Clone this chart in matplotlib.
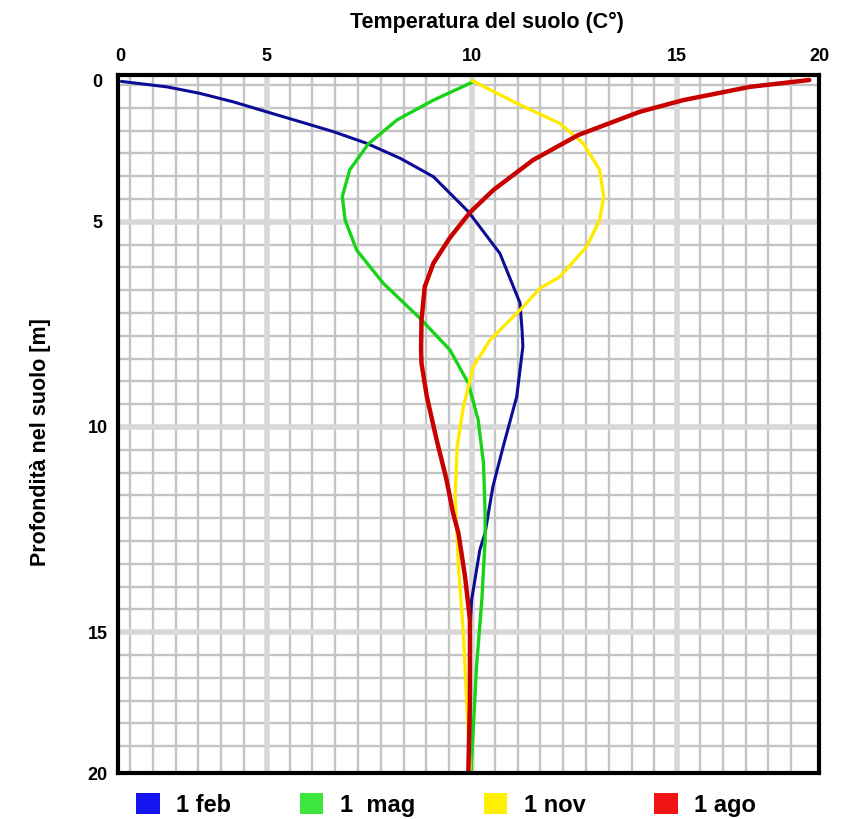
import numpy as np
import matplotlib
matplotlib.use("Agg")
import matplotlib.pyplot as plt
from matplotlib.patches import Patch

plt.rcParams['font.family'] = ['Liberation Sans', 'DejaVu Sans']

# ---------------- data (temperature in C, depth in m) ----------------
feb_T = [0.05, 1.59, 2.72, 3.86, 4.99, 5.81, 6.62, 7.43, 8.25, 9.06, 9.91, 10.68,
         11.17, 11.22, 11.24, 11.09, 10.76, 10.51, 10.32, 10.19, 9.99, 9.95, 9.95, 9.95]
feb_D = [0.05, 0.24, 0.47, 0.77, 1.12, 1.47, 1.82, 2.23, 2.76, 3.41, 4.64, 5.77,
         6.98, 7.64, 8.04, 9.26, 10.48, 11.45, 12.58, 13.0, 14.22, 15.03, 19.8, 20.0]

mag_T = [10.05, 9.06, 8.17, 7.47, 7.02, 6.84, 6.91, 7.19, 7.84, 8.73, 9.46, 9.91,
         10.15, 10.28, 10.32, 10.32, 10.24, 10.11, 9.99, 9.98]
mag_D = [0.05, 0.71, 1.41, 2.26, 3.17, 4.11, 4.94, 5.69, 6.50, 7.35, 8.12, 8.93,
         9.83, 10.88, 12.10, 12.75, 14.21, 16.23, 19.56, 20.0]

nov_T = [10.0, 11.09, 12.14, 12.71, 13.11, 13.21, 13.11, 12.79, 12.14, 11.66, 11.17,
         10.44, 10.03, 9.79, 9.64, 9.59, 9.67, 9.79, 9.87, 9.95, 9.95]
nov_D = [0.02, 0.82, 1.53, 2.23, 3.17, 4.11, 4.94, 5.61, 6.34, 6.62, 7.15,
         7.88, 8.53, 9.51, 10.48, 11.70, 13.40, 15.04, 17.42, 19.68, 20.0]

ago_T = [19.66, 17.57, 15.21, 14.09, 12.59, 11.49, 10.52, 9.95, 9.46, 9.06, 8.85,
         8.77, 8.76, 8.77, 8.90, 9.14, 9.38, 9.54, 9.67, 9.83, 9.95, 9.95, 9.91]
ago_D = [0.0, 0.24, 0.71, 1.12, 1.94, 2.82, 3.88, 4.67, 5.39, 6.01, 6.58,
         7.39, 8.12, 8.45, 9.26, 10.32, 11.29, 12.10, 12.59, 13.64, 14.70, 17.42, 20.0]

series_labels = ["1 feb", "1  mag", "1 nov", "1 ago"]
tick_values = [0, 5, 10, 15, 20]

# ---------------- styling ----------------
line_colors = ['#0c0c96', '#16d416', '#ffea00', '#c80000']
legend_colors = ['#1414f0', '#3ce63c', '#fff000', '#f01414']
line_widths = [2.2, 2.4, 2.4, 3.2]

# The printed scale is not uniform: piecewise mapping value -> grid cells
X_ANCH_V = [-5, 0, 5, 10, 15, 20, 25]
X_ANCH_G = [-6.88, -0.44, 6, 15, 24, 30.22, 36.44]
Y_ANCH_V = [-5, 0, 5, 10, 15, 20, 25]
Y_ANCH_G = [-6.44, -0.22, 6, 15, 24, 30.18, 36.36]


def fx(v):
    return np.interp(np.asarray(v, dtype=float), X_ANCH_V, X_ANCH_G)


def fx_inv(g):
    return np.interp(np.asarray(g, dtype=float), X_ANCH_G, X_ANCH_V)


def fy(v):
    return np.interp(np.asarray(v, dtype=float), Y_ANCH_V, Y_ANCH_G)


def fy_inv(g):
    return np.interp(np.asarray(g, dtype=float), Y_ANCH_G, Y_ANCH_V)


W, H = 854, 819
fig = plt.figure(figsize=(W / 100, H / 100), dpi=100)
fig.patch.set_facecolor('white')
ax = fig.add_axes([118.5 / W, 1 - 773 / H, (819 - 118.5) / W, (773 - 75) / H])

ax.set_xscale('function', functions=(fx, fx_inv))
ax.set_yscale('function', functions=(fy, fy_inv))
ax.set_xlim(float(fx_inv(-0.504)), 20)
ax.set_ylim(20, float(fy_inv(-0.44)))

# grid
cells = np.arange(0, 30)
thin = [c for c in cells if c not in (6, 15, 24)]
for c in thin:
    ax.axvline(float(fx_inv(c)), color='#c4c4c4', lw=1.7, zorder=1)
    ax.axhline(float(fy_inv(c)), color='#c4c4c4', lw=1.7, zorder=1)
for v in (5, 10, 15):
    ax.axvline(v, color='#d8d8d8', lw=4.0, zorder=1)
    ax.axhline(v, color='#d8d8d8', lw=4.0, zorder=1)

# curves
data = [(feb_T, feb_D), (mag_T, mag_D), (nov_T, nov_D), (ago_T, ago_D)]
for (t, d), c, lw in zip(data, line_colors, line_widths):
    ax.plot(t, d, color=c, lw=lw, solid_capstyle='round', solid_joinstyle='round', zorder=3)

# ticks
ax.xaxis.tick_top()
ax.set_xticks(tick_values)
ax.set_xticklabels([str(v) for v in tick_values])
ax.set_yticks(tick_values)
ax.set_yticklabels([str(v) for v in tick_values])
ax.minorticks_off()
ax.tick_params(axis='both', length=0, labelsize=13)
ax.tick_params(axis='x', pad=7)
ax.tick_params(axis='y', pad=15)
for lab in ax.get_xticklabels() + ax.get_yticklabels():
    lab.set_fontweight('bold')
for lab in ax.get_yticklabels():
    lab.set_horizontalalignment('center')

for s in ax.spines.values():
    s.set_color('black')
    s.set_linewidth(3.0)
    s.set_zorder(5)

fig.text(487 / W, 1 - 22 / H, "Temperatura del suolo (C°)", ha='center', va='center',
         fontsize=15.5, fontweight='bold')
fig.text(41 / W, 1 - 442 / H, "Profondità nel suolo [m]", ha='center', va='center',
         rotation=90, fontsize=15.5, fontweight='bold')

handles = [Patch(facecolor=c, edgecolor='none') for c in legend_colors]
leg = fig.legend(handles, series_labels, loc='center', bbox_to_anchor=(446 / W, 1 - 805 / H),
                 ncol=4, frameon=False, handlelength=1.0, handleheight=1.0,
                 handletextpad=0.7, columnspacing=2.9, borderpad=0,
                 prop={'weight': 'bold', 'size': 17})

fig.savefig('out.png', dpi=100)
